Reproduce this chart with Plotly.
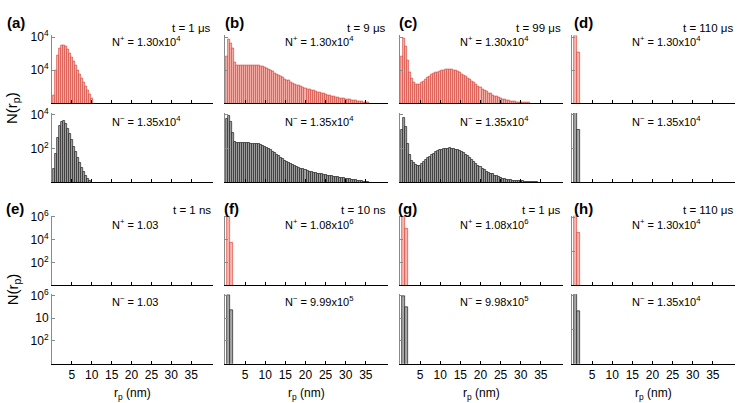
import plotly.graph_objects as go

# ---------------- data ----------------
R_BINS = [0.5, 1.0, 1.5, 2.0, 2.5, 3.0, 3.5, 4.0, 4.5, 5.0, 5.5, 6.0, 6.5, 7.0, 7.5, 8.0,
          8.5, 9.0, 9.5, 10.0, 10.5, 11.0, 11.5, 12.0, 12.5, 13.0, 13.5, 14.0, 14.5, 15.0,
          15.5, 16.0, 16.5, 17.0, 17.5, 18.0, 18.5, 19.0, 19.5, 20.0, 20.5, 21.0, 21.5,
          22.0, 22.5, 23.0, 23.5, 24.0, 24.5, 25.0, 25.5, 26.0, 26.5, 27.0, 27.5, 28.0,
          28.5, 29.0, 29.5, 30.0, 30.5, 31.0, 31.5, 32.0, 32.5, 33.0, 33.5, 34.0, 34.5,
          35.0, 35.5]
R_NARROW = [0.75, 1.5]

a_pos = [3, 100, 800, 2200, 3100, 3200, 2600, 1700, 1000, 560, 320, 180, 100, 56, 32,
         18, 10, 5.6, 3.2, 2]
a_neg = [6, 50, 450, 2200, 3900, 4000, 2900, 1500, 700, 320, 130, 60, 28, 14, 7, 4,
         2.5, 1.6, 1.2]

b_pos = [630, 7000, 4000, 2200, 300, 200, 200, 200, 200, 205, 205, 205, 205, 200, 200,
         195, 190, 175, 160, 140, 120, 105, 90, 78, 66, 56, 47, 40, 34, 29, 25, 22, 19,
         16, 14, 12.5, 11, 9.8, 8.7, 7.8, 7.1, 6.5, 6.0, 5.5, 5.0, 4.6, 4.2, 3.9, 3.6,
         3.3, 3.0, 2.8, 2.6, 2.4, 2.25, 2.1, 2.0, 1.9, 1.8, 1.7, 1.6, 1.55, 1.5, 1.42,
         1.36, 1.3, 1.25, 1.2, 1.15, 1.1, 1.06]
b_neg = [5600, 8900, 3500, 800, 250, 205, 205, 205, 205, 205, 205, 205, 200, 200, 195,
         190, 185, 170, 150, 130, 113, 95, 80, 65, 54, 44, 36, 30, 25, 20, 17, 14.5,
         12.5, 11, 9.6, 8.4, 7.4, 6.6, 6.0, 5.4, 4.9, 4.5, 4.2, 3.9, 3.6, 3.4, 3.2, 3.0,
         2.85, 2.7, 2.55, 2.45, 2.35, 2.25, 2.15, 2.05, 1.95, 1.85, 1.75, 1.65, 1.6,
         1.55, 1.5, 1.45, 1.4, 1.32, 1.26, 1.2, 1.14, 1.08, 1.04]

c_pos = [720, 8700, 2800, 370, 76, 30, 18, 13, 12.6, 14, 17, 21, 27, 34, 42, 51, 60,
         68, 77, 85, 93, 100, 105, 109, 110, 107, 100, 90, 78, 68, 58, 48, 40, 33, 27,
         21, 17, 13, 10.5, 8.5, 7, 5.8, 4.8, 4.1, 3.6, 3.1, 2.7, 2.4, 2.1, 1.9, 1.75,
         1.6, 1.5, 1.4, 1.32, 1.25, 1.2, 1.16, 1.13, 1.1, 1.08, 1.06, 1.04, 1.02]
c_neg = [1260, 6800, 1900, 180, 40, 20, 15, 11, 9.1, 10, 12.5, 16, 21, 28, 33, 41, 50,
         60, 70, 78, 85, 92, 98, 102, 105, 102, 96, 88, 80, 72, 65, 56, 45, 35, 27, 21,
         16, 12, 9.5, 7.8, 6.5, 5.4, 4.5, 3.8, 3.4, 3.0, 2.6, 2.3, 2.0, 1.85, 1.7, 1.6,
         1.5, 1.42, 1.36, 1.32, 1.28, 1.25, 1.22, 1.2, 1.18, 1.16, 1.14, 1.12, 1.1,
         1.08, 1.06, 1.04]

d_pos = [12000, 1200]
d_neg = [12500, 1300]
e_pos = []
e_neg = []
f_pos = [1.07e6, 5600]
f_neg = [9.5e5, 5.0e4]
g_pos = [1.0e6, 9.3e4]
g_neg = [9.0e5, 9.3e4]
h_pos = [12000, 1200]
h_neg = [12500, 1300]

PANEL_LABELS = ["(a)", "(b)", "(c)", "(d)", "(e)", "(f)", "(g)", "(h)"]
TIME_LABELS = ["t = 1 μs", "t = 9 μs", "t = 99 μs", "t = 110 μs",
               "t = 1 ns", "t = 10 ns", "t = 1 μs", "t = 110 μs"]
NPOS_LABELS = ["1.30x10<sup>4</sup>", "1.30x10<sup>4</sup>", "1.30x10<sup>4</sup>",
               "1.30x10<sup>4</sup>", "1.03", "1.08x10<sup>6</sup>",
               "1.08x10<sup>6</sup>", "1.30x10<sup>4</sup>"]
NNEG_LABELS = ["1.35x10<sup>4</sup>", "1.35x10<sup>4</sup>", "1.35x10<sup>4</sup>",
               "1.35x10<sup>4</sup>", "1.03", "9.99x10<sup>5</sup>",
               "9.98x10<sup>5</sup>", "1.35x10<sup>4</sup>"]
X_TICKS = [5, 10, 15, 20, 25, 30, 35]
Y_TICKTEXT_ROWS = [
    ["10<sup>4</sup>", "10<sup>4</sup>"],
    ["10<sup>2</sup>", "10<sup>4</sup>"],
    ["10<sup>2</sup>", "10<sup>4</sup>", "10<sup>6</sup>"],
    ["10<sup>2</sup>", "10", "10<sup>6</sup>"],
]

POS_DATA = [a_pos, b_pos, c_pos, d_pos, e_pos, f_pos, g_pos, h_pos]
NEG_DATA = [a_neg, b_neg, c_neg, d_neg, e_neg, f_neg, g_neg, h_neg]
NARROW = [False, False, False, True, True, True, True, True]

# ---------------- layout geometry (px) ----------------
W, H = 742, 403
COL_PX = [(52, 213), (225, 388), (400, 563), (572, 735)]
ROW_PX = [(28, 97), (107, 178), (212, 283), (292, 363)]
FONT = "Liberation Sans, Arial, sans-serif"

RED_FILL, RED_LINE = "#f7b6ae", "#d6493f"
BLK_FILL, BLK_LINE = "#a9a9a9", "#1e1e1e"


def px_x(p):
    return p / W


def px_y(p):
    return 1 - p / H


def aid(n):
    return "" if n == 1 else str(n)


fig = go.Figure()
layout = dict(width=W, height=H, margin=dict(l=0, r=0, t=0, b=0),
              paper_bgcolor="white", plot_bgcolor="white", showlegend=False,
              bargap=0, font=dict(family=FONT, size=12, color="black"))
annotations = []

for p in range(8):
    block, col = divmod(p, 4)
    for s in range(2):
        row = 2 * block + s
        n = row * 4 + col + 1
        k = aid(n)
        vals = POS_DATA[p] if s == 0 else NEG_DATA[p]
        xs = (R_NARROW if NARROW[p] else R_BINS)[:len(vals)]
        width = 0.75 if NARROW[p] else 0.5
        fill, line = (RED_FILL, RED_LINE) if s == 0 else (BLK_FILL, BLK_LINE)
        fig.add_trace(go.Bar(x=xs, y=vals, width=width, xaxis="x" + k, yaxis="y" + k,
                             marker=dict(color=fill, line=dict(color=line, width=0.7)),
                             hoverinfo="x+y"))
        x0, x1 = COL_PX[col]
        yt, yb = ROW_PX[row]
        big = (block == 1 and col < 3)
        yrange = [0, 6.1] if big else [0, 4.1]
        if big:
            tickvals = [100, 1e4, 1e6]
            ticktext = Y_TICKTEXT_ROWS[row]
        else:
            tickvals = [100, 1e4]
            ticktext = Y_TICKTEXT_ROWS[row][:2]
        layout["xaxis" + k] = dict(
            domain=[px_x(x0), px_x(x1)], range=[0, 40.5], anchor="y" + k,
            showline=True, linecolor="black", linewidth=1, ticks="inside",
            ticklen=3, tickcolor="black", tickvals=X_TICKS,
            showticklabels=(row == 3), showgrid=False, zeroline=False,
            tickfont=dict(size=12, family=FONT))
        layout["yaxis" + k] = dict(
            domain=[px_y(yb), px_y(yt)], type="log", range=yrange, anchor="x" + k,
            showline=True, linecolor="#8a8a8a", linewidth=1, ticks="inside",
            ticklen=3, tickcolor="#8a8a8a", tickvals=tickvals, ticktext=ticktext,
            showticklabels=(col == 0), showgrid=False, zeroline=False,
            tickfont=dict(size=12, family=FONT))
        # N labels
        sign = "+" if s == 0 else "−"
        txt = "N<sup>%s</sup> = %s" % (sign, NPOS_LABELS[p] if s == 0 else NNEG_LABELS[p])
        ny = [34, 115, 220, 299][row]
        annotations.append(dict(text=txt, xref="x" + k, x=14.5, xanchor="left",
                                yref="paper", y=px_y(ny), yanchor="middle",
                                showarrow=False, font=dict(size=11, family=FONT)))
    # panel label and time label
    x0, x1 = COL_PX[col]
    label_x = [5, 223, 397, 572][col] if block == 0 else [4, 222, 396, 572][col]
    label_y = 15 if block == 0 else 205
    annotations.append(dict(text="<b>%s</b>" % PANEL_LABELS[p], xref="paper",
                            x=px_x(label_x), xanchor="left", yref="paper",
                            y=px_y(label_y), yanchor="middle", showarrow=False,
                            font=dict(size=15, family=FONT)))
    t_y = 20 if block == 0 else 206
    annotations.append(dict(text=TIME_LABELS[p], xref="paper", x=px_x(x1),
                            xanchor="right", yref="paper", y=px_y(t_y),
                            yanchor="middle", showarrow=False,
                            font=dict(size=11.5, family=FONT)))

# x-axis titles
for col in range(4):
    x0, x1 = COL_PX[col]
    annotations.append(dict(text="r<sub>p</sub> (nm)", xref="paper", x=px_x((x0 + x1) / 2),
                            xanchor="center", yref="paper", y=px_y(394),
                            yanchor="middle", showarrow=False,
                            font=dict(size=12, family=FONT)))
# y-axis titles
for yc in [102, 287]:
    annotations.append(dict(text="N(r<sub>p</sub>)", xref="paper", x=px_x(13),
                            xanchor="center", yref="paper", y=px_y(yc),
                            yanchor="middle", textangle=-90, showarrow=False,
                            font=dict(size=15, family=FONT)))

layout["annotations"] = annotations
fig.update_layout(**layout)
fig.write_html("out.html")
